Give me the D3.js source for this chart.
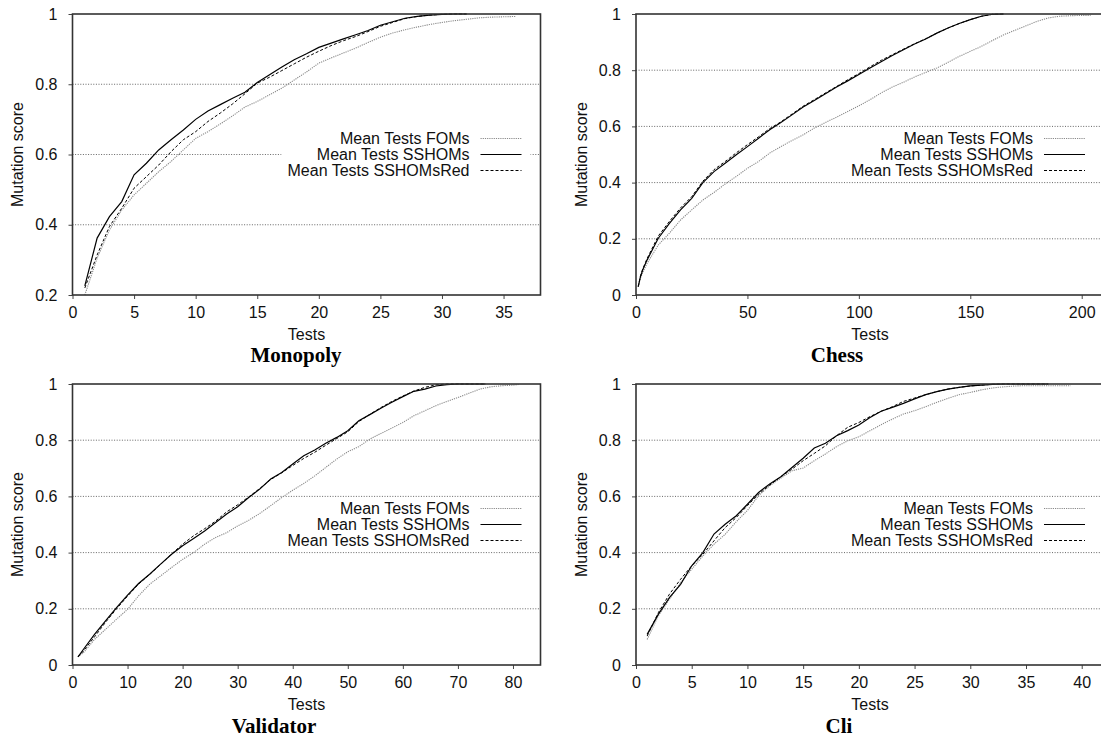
<!DOCTYPE html>
<html>
<head>
<meta charset="utf-8">
<script src="https://cdn.jsdelivr.net/npm/d3@7"></script>
<style>
body { margin: 0; background: #fff; }
svg { display: block; font-family: "Liberation Sans", Arial, sans-serif; }
</style>
</head>
<body>
<svg id="chart" width="1101" height="742"></svg>
<script>
// legend labels
var seriesNames = ["Mean Tests FOMs", "Mean Tests SSHOMs", "Mean Tests SSHOMsRed"];
var panelTitles = ["Monopoly", "Chess", "Validator", "Cli"];

// Monopoly
var monoTests = [1,2,3,4,5,6,7,8,9,10,11,12,13,14,15,16,17,18,19,20,21,22,23,24,25,26,27,28,29,30,31,32];
var monoTestsFOMs = [1,2,3,4,5,6,7,8,9,10,11,12,13,14,15,16,17,18,19,20,21,22,23,24,25,26,27,28,29,30,31,32,33,34,35,36];
var monoFOMs = [0.20,0.305,0.385,0.442,0.485,0.518,0.551,0.580,0.613,0.646,0.665,0.687,0.710,0.735,0.751,0.770,0.789,0.812,0.835,0.860,0.875,0.889,0.903,0.919,0.934,0.946,0.955,0.963,0.970,0.976,0.981,0.985,0.989,0.991,0.992,0.993];
var monoSSHOMs = [0.226,0.362,0.423,0.466,0.542,0.575,0.613,0.642,0.670,0.700,0.724,0.742,0.760,0.777,0.805,0.827,0.849,0.870,0.887,0.905,0.917,0.929,0.941,0.953,0.968,0.978,0.988,0.993,0.997,0.999,1,1];
var monoSSHOMsRed = [0.22,0.314,0.395,0.447,0.504,0.537,0.570,0.608,0.642,0.665,0.694,0.718,0.744,0.773,0.803,0.820,0.839,0.858,0.877,0.894,0.910,0.924,0.936,0.950,0.965,0.976,0.987,0.993,0.997,0.999,1,1];

// Chess
var chessTests = [1,2,3,5,10,15,20,25,30,35,40,45,50,55,60,65,70,75,80,85,90,95,100,105,110,115,120,125,130,135,140,145,150,155,160,165];
var chessTestsFOMs = [1,2,3,5,10,15,20,25,30,35,40,45,50,55,60,65,70,75,80,85,90,95,100,105,110,115,120,125,130,135,140,145,150,155,160,165,170,175,180,185,190,195,200,204];
var chessFOMs = [0.03,0.06,0.08,0.113,0.178,0.220,0.267,0.303,0.338,0.365,0.395,0.422,0.451,0.475,0.505,0.528,0.550,0.570,0.594,0.614,0.633,0.653,0.673,0.695,0.719,0.740,0.757,0.776,0.792,0.808,0.828,0.849,0.867,0.885,0.906,0.926,0.942,0.958,0.974,0.986,0.992,0.994,0.995,0.995];
var chessSSHOMs = [0.03,0.065,0.089,0.125,0.202,0.255,0.303,0.344,0.40,0.439,0.469,0.499,0.528,0.558,0.588,0.614,0.641,0.669,0.692,0.716,0.740,0.762,0.785,0.808,0.830,0.852,0.873,0.893,0.911,0.932,0.950,0.966,0.980,0.992,0.999,1];
var chessSSHOMsRed = [0.03,0.068,0.092,0.13,0.21,0.262,0.31,0.35,0.405,0.446,0.475,0.506,0.535,0.563,0.592,0.616,0.644,0.672,0.695,0.719,0.742,0.766,0.788,0.812,0.835,0.855,0.875,0.894,0.912,0.932,0.95,0.966,0.98,0.992,0.999,1];

// Validator
var valTests = [1,2,4,6,8,10,12,14,16,18,20,22,24,26,28,30,32,34,36,38,40,42,44,46,48,50,52,54,56,58,60,62,64,66,68,70,75];
var valTestsFOMs = [1,2,4,6,8,10,12,14,16,18,20,22,24,26,28,30,32,34,36,38,40,42,44,46,48,50,52,54,56,58,60,62,64,66,68,70,72,74,76,78,80,81];
var valFOMs = [0.03,0.044,0.091,0.127,0.163,0.198,0.246,0.287,0.317,0.347,0.376,0.40,0.43,0.454,0.471,0.495,0.515,0.539,0.567,0.596,0.622,0.646,0.673,0.703,0.733,0.759,0.777,0.804,0.824,0.843,0.863,0.887,0.905,0.923,0.938,0.952,0.967,0.982,0.990,0.994,0.996,0.998];
var valSSHOMs = [0.029,0.056,0.109,0.157,0.204,0.249,0.29,0.323,0.359,0.394,0.424,0.45,0.477,0.507,0.537,0.563,0.596,0.626,0.662,0.685,0.715,0.745,0.765,0.789,0.81,0.834,0.869,0.891,0.914,0.935,0.955,0.974,0.982,0.993,0.998,1,1];
var valSSHOMsRed = [0.029,0.05,0.10,0.152,0.20,0.245,0.288,0.322,0.358,0.395,0.43,0.46,0.485,0.512,0.545,0.57,0.598,0.628,0.66,0.684,0.71,0.735,0.757,0.782,0.806,0.83,0.866,0.892,0.916,0.938,0.957,0.975,0.988,0.997,1,1,1];

// Cli
var cliTests = [1,2,3,4,5,6,7,8,9,10,11,12,13,14,15,16,17,18,19,20,21,22,23,24,25,26,27,28,29,30,31,32,33,34,35,36,37];
var cliTestsFOMs = [1,2,3,4,5,6,7,8,9,10,11,12,13,14,15,16,17,18,19,20,21,22,23,24,25,26,27,28,29,30,31,32,33,34,35,36,37,38,39];
var cliFOMs = [0.091,0.175,0.234,0.293,0.341,0.388,0.43,0.465,0.51,0.55,0.603,0.638,0.665,0.691,0.701,0.727,0.751,0.777,0.798,0.812,0.834,0.855,0.875,0.893,0.905,0.919,0.935,0.949,0.962,0.97,0.979,0.986,0.99,0.993,0.994,0.994,0.994,0.994,0.994];
var cliSSHOMs = [0.109,0.18,0.24,0.287,0.353,0.40,0.466,0.501,0.531,0.572,0.614,0.644,0.67,0.703,0.736,0.772,0.789,0.816,0.834,0.854,0.881,0.903,0.917,0.931,0.947,0.962,0.973,0.982,0.988,0.993,0.996,0.999,1,1,1,1,1];
var cliSSHOMsRed = [0.103,0.186,0.252,0.305,0.353,0.394,0.442,0.489,0.525,0.567,0.608,0.64,0.67,0.697,0.727,0.753,0.78,0.816,0.846,0.863,0.884,0.903,0.919,0.938,0.95,0.962,0.973,0.982,0.988,0.993,0.996,0.999,1,1,1,1,1];

// axes
var monoXTicks = [0,5,10,15,20,25,30,35];
var chessXTicks = [0,50,100,150,200];
var valXTicks = [0,10,20,30,40,50,60,70,80];
var cliXTicks = [0,5,10,15,20,25,30,35,40];
var xMax = [38, 210, 85, 42];
var monoYTicks = [0.2,0.4,0.6,0.8,1];
var yTicks = [0,0.2,0.4,0.6,0.8,1];

function pts(xs, ys) { return xs.map(function(x, i) { return [x, ys[i]]; }); }

var panels = [
  { xTicks: monoXTicks, yTicks: monoYTicks, yMin: 0.2,
    series: [pts(monoTestsFOMs, monoFOMs), pts(monoTests, monoSSHOMs), pts(monoTests, monoSSHOMsRed)] },
  { xTicks: chessXTicks, yTicks: yTicks, yMin: 0,
    series: [pts(chessTestsFOMs, chessFOMs), pts(chessTests, chessSSHOMs), pts(chessTests, chessSSHOMsRed)] },
  { xTicks: valXTicks, yTicks: yTicks, yMin: 0,
    series: [pts(valTestsFOMs, valFOMs), pts(valTests, valSSHOMs), pts(valTests, valSSHOMsRed)] },
  { xTicks: cliXTicks, yTicks: yTicks, yMin: 0,
    series: [pts(cliTestsFOMs, cliFOMs), pts(cliTests, cliSSHOMs), pts(cliTests, cliSSHOMsRed)] }
];

// layout
var W = 468, H = 281;
var FS = 16;
var origins = [[72.5, 14], [636, 14], [72.5, 384], [636, 384]];
var titlePos = [[296, 362], [837, 362], [274, 733], [839, 733]];
var lineStyle = [
  { stroke: "#8a8a8a", width: 1.1, dash: "1.2,1" },
  { stroke: "#000", width: 1.2, dash: null },
  { stroke: "#000", width: 1, dash: "3,2" }
];

var svg = d3.select("#chart");

panels.forEach(function(p, k) {
  var g = svg.append("g").attr("transform", "translate(" + origins[k][0] + "," + origins[k][1] + ")");
  var x = d3.scaleLinear().domain([0, xMax[k]]).range([0, W]);
  var y = d3.scaleLinear().domain([p.yMin, 1]).range([H, 0]);

  // dotted grid
  g.selectAll(".grid").data(p.yTicks.filter(function(t) { return t > p.yMin && t < 1; }))
    .enter().append("line")
    .attr("x1", 0).attr("x2", W)
    .attr("y1", function(d) { return y(d); }).attr("y2", function(d) { return y(d); })
    .attr("stroke", "#555").attr("stroke-width", 0.9).attr("stroke-dasharray", "1,1.6");

  var line = d3.line().x(function(d) { return x(d[0]); }).y(function(d) { return y(d[1]); });
  p.series.forEach(function(s, i) {
    g.append("path").datum(s).attr("d", line)
      .attr("fill", "none")
      .attr("stroke", lineStyle[i].stroke)
      .attr("stroke-width", lineStyle[i].width)
      .attr("stroke-dasharray", lineStyle[i].dash);
  });

  // axes
  var xa = g.append("g").attr("transform", "translate(0," + H + ")")
    .call(d3.axisBottom(x).tickValues(p.xTicks).tickSize(4).tickPadding(8).tickFormat(d3.format("d")));
  var ya = g.append("g")
    .call(d3.axisLeft(y).tickValues(p.yTicks).tickSize(4).tickPadding(11).tickFormat(function(d) { return String(+d.toFixed(1)); }));
  [xa, ya].forEach(function(a) {
    a.select(".domain").remove();
    a.selectAll("line").attr("stroke", "#444");
    a.selectAll("text").attr("font-size", FS).attr("font-family", "Liberation Sans, Arial, sans-serif").attr("fill", "#111");
  });

  // frame
  g.append("rect").attr("width", W).attr("height", H)
    .attr("fill", "none").attr("stroke", "#333").attr("stroke-width", 1.6);

  // key
  var key = g.append("g");
  key.append("rect").attr("x", W - 259).attr("y", 116).attr("width", 249).attr("height", 50).attr("fill", "#fff");
  seriesNames.forEach(function(n, i) {
    var ry = 124.5 + i * 16;
    key.append("text").attr("x", W - 71).attr("y", ry).attr("dy", "0.36em")
      .attr("text-anchor", "end").attr("font-size", FS).attr("fill", "#111").text(n);
    key.append("line").attr("x1", W - 60).attr("x2", W - 19).attr("y1", ry).attr("y2", ry)
      .attr("stroke", lineStyle[i].stroke).attr("stroke-width", lineStyle[i].width)
      .attr("stroke-dasharray", lineStyle[i].dash);
  });

  // axis titles
  g.append("text").attr("x", W / 2).attr("y", H + 39).attr("dy", "0.36em")
    .attr("text-anchor", "middle").attr("font-size", FS).attr("fill", "#111").text("Tests");
  g.append("text").attr("transform", "translate(-55," + (H / 2) + ") rotate(-90)").attr("dy", "0.36em")
    .attr("text-anchor", "middle").attr("font-size", FS).attr("fill", "#111").text("Mutation score");

  svg.append("text").attr("x", titlePos[k][0]).attr("y", titlePos[k][1])
    .attr("text-anchor", "middle").attr("font-family", "Liberation Serif, serif")
    .attr("font-weight", "bold").attr("font-size", 21).attr("fill", "#000")
    .text(panelTitles[k]);
});
</script>
</body>
</html>
